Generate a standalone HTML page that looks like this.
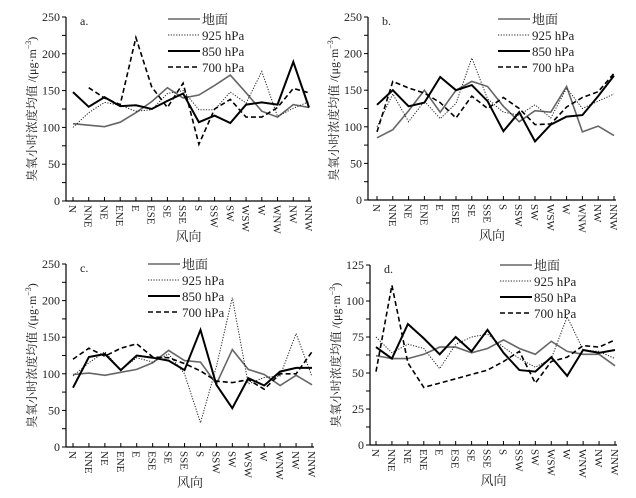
<!DOCTYPE html>
<html><head><meta charset="utf-8"><style>
body{margin:0;background:#fff;}
svg{display:block;font-family:"Liberation Serif","Noto Serif CJK SC",serif;}
</style></head><body>
<svg id="chart" width="636" height="498" xmlns="http://www.w3.org/2000/svg"></svg>
<script>
const categories=["N","NNE","NE","ENE","E","ESE","SE","SSE","S","SSW","SW","WSW","W","WNW","NW","NNW"];
const seriesNames=["地面","925 hPa","850 hPa","700 hPa"];
const panelLabels=["a.","b.","c.","d."];
const a_ground=[105,103,101,107,120,135,154,140,144,157,171,147,122,114,131,127];
const a_925=[100,120,134,130,122,124,146,150,124,124,148,133,176,115,126,135];
const a_850=[148,128,141,129,130,125,136,146,107,116,106,131,134,131,189,127];
const a_700=[null,154,140,131,222,155,127,160,77,125,138,114,114,127,153,147];
const b_ground=[85,96,122,150,120,150,162,155,128,107,122,120,155,93,101,88];
const b_925=[100,145,107,135,111,132,194,138,120,116,130,112,153,125,135,145];
const b_850=[130,150,128,133,168,150,157,135,94,120,80,103,114,116,142,170];
const b_700=[93,162,153,146,133,112,142,125,140,125,103,104,127,140,148,173];
const c_ground=[99,101,98,102,106,115,132,118,116,86,133,106,99,84,98,85];
const c_925=[97,115,130,105,122,116,127,100,33,110,204,86,95,97,155,96];
const c_850=[81,123,127,105,125,122,118,105,160,85,53,94,84,103,108,108];
const c_700=[120,135,124,135,141,123,122,114,104,90,88,92,79,100,100,130];
const d_ground=[62,60,60,63,68,68,64,67,73,67,63,72,65,63,63,55];
const d_925=[75,64,70,67,53,70,75,77,68,60,54,60,89,66,65,60];
const d_850=[68,60,84,74,63,75,65,80,64,52,51,61,48,66,64,66];
const d_700=[51,111,57,40,43,46,49,52,58,65,43,58,61,69,68,73];
const yMaxes=[250,250,250,125];
const yTicksA=[0,50,100,150,200,250];
const yTicksD=[0,25,50,75,100,125];

const panels=[
 {ax:66,x0:73,x1:309,yTop:17,yBot:201,data:[a_ground,a_925,a_850,a_700],ticks:yTicksA,leg:[168,19]},
 {ax:368,x0:377,x1:614,yTop:17,yBot:200,data:[b_ground,b_925,b_850,b_700],ticks:yTicksA,leg:[498,19]},
 {ax:66,x0:73,x1:312,yTop:264,yBot:447,data:[c_ground,c_925,c_850,c_700],ticks:yTicksA,leg:[148,264]},
 {ax:370,x0:376,x1:615,yTop:265,yBot:445,data:[d_ground,d_925,d_850,d_700],ticks:yTicksD,leg:[500,265]}
];
const styles=[
 {stroke:"#666",w:1.6,dash:""},
 {stroke:"#222",w:1,dash:"1.2,1.5"},
 {stroke:"#000",w:2,dash:""},
 {stroke:"#000",w:1.6,dash:"5,3"}
];
const NS="http://www.w3.org/2000/svg";
const svg=document.getElementById("chart");
function mk(tag,attrs,parent){const e=document.createElementNS(NS,tag);for(const k in attrs)e.setAttribute(k,attrs[k]);(parent||svg).appendChild(e);return e;}

panels.forEach((p,pi)=>{
 const g=mk("g",{});
 
 
 const ymax=yMaxes[pi];
 const xs=i=>p.x0+(p.x1-p.x0)*i/(categories.length-1);
 const ys=v=>p.yBot-(p.yBot-p.yTop)*v/ymax;
 const axR=p.x1+2;
 const yAxis=mk("path",{d:`M${p.ax},${p.yTop}V${p.yBot}`,stroke:"#000","stroke-width":1.2,fill:"none"},g);
 
 
 const xAxis=mk("path",{d:`M${p.ax},${p.yBot}H${axR}`,stroke:"#000","stroke-width":1.2,fill:"none"},g);
 
 
 const step=p.ticks[1];
 for(let v=0;v<=ymax+0.01;v+=step/2){
  const y=ys(v);
  mk("line",{x1:p.ax-4,x2:p.ax,y1:y,y2:y,stroke:"#000","stroke-width":1},g);
 }
 p.ticks.forEach(v=>{
  const t=mk("text",{x:p.ax-6,y:ys(v)+4,"text-anchor":"end","font-size":12,fill:"#222"},g);
  t.textContent=v;
  
  
 });
 categories.forEach((c,i)=>{
  const x=xs(i);
  mk("line",{x1:x,x2:x,y1:p.yBot,y2:p.yBot-4,stroke:"#000","stroke-width":1},g);
  const t=mk("text",{x:0,y:0,transform:`translate(${x-4},${p.yBot+4}) rotate(90)`,"font-size":11,fill:"#222"},g);
  t.textContent=c;
  
  
 });
 const xt=mk("text",{x:(p.ax+axR)/2,y:p.yBot+40,"text-anchor":"middle","font-size":13,fill:"#222"},g);
 xt.textContent="风向";
 
 
 const cy=(p.yTop+p.yBot)/2;
 const yt=mk("text",{x:0,y:0,transform:`translate(${p.ax-30},${cy}) rotate(-90)`,"text-anchor":"middle","font-size":12,fill:"#222"},g);
 yt.innerHTML='臭氧小时浓度均值 /(μg·m<tspan dy="-5" font-size="8">−3</tspan><tspan dy="5">)</tspan>';
 
 
 const pl=mk("text",{x:p.ax+14,y:p.yTop+8,"font-size":12,fill:"#222"},g);
 pl.textContent=panelLabels[pi];
 
 
 p.data.forEach((arr,si)=>{
  const s=styles[si];let d="";let pen=false;
  arr.forEach((v,i)=>{if(v==null){pen=false;return;}d+=(pen?"L":"M")+xs(i).toFixed(1)+","+ys(v).toFixed(1);pen=true;});
  const l=mk("path",{d:d,stroke:s.stroke,"stroke-width":s.w,fill:"none","stroke-dasharray":s.dash,"stroke-linejoin":"miter"},g);
  
  
  const ly=p.leg[1]+si*16;
  const ll=mk("line",{x1:p.leg[0],x2:p.leg[0]+32,y1:ly,y2:ly,stroke:s.stroke,"stroke-width":s.w,"stroke-dasharray":s.dash},g);
  
  
  const lt=mk("text",{x:p.leg[0]+34,y:ly+5,"font-size":13,fill:"#222"},g);
  lt.textContent=seriesNames[si];
  
  
 });
});
</script>
</body></html>
